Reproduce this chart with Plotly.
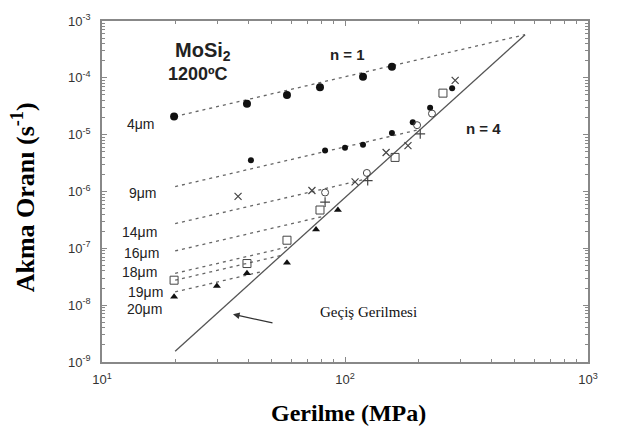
import plotly.graph_objects as go

# ---------------- data ----------------
grain_sizes = ["4μm", "9μm", "14μm", "16μm", "18μm", "19μm", "20μm"]

# dashed n = 1 lines: start / end points (stress MPa, strain rate 1/s)
line_x_start = [20, 20, 20, 20, 20, 20, 20]
line_y_start = [2.09e-5, 1.22e-6, 2.72e-7, 9.0e-8, 3.63e-8, 2.75e-8, 1.71e-8]
line_x_end = [550, 204, 121, 82.4, 60, 54.5, 46.2]
line_y_end = [5.74e-4, 1.24e-5, 1.64e-6, 3.7e-7, 1.09e-7, 7.5e-8, 3.96e-8]

# solid n = 4 transition line
trans_x = [20, 551]
trans_y = [1.55e-9, 5.75e-4]

# measured points per grain size
d4_x = [19.8, 39.5, 57.7, 78.9, 118.6, 156]
d4_y = [2.09e-5, 3.49e-5, 4.98e-5, 6.83e-5, 1.05e-4, 1.56e-4]

d9_x = [41.0, 82.8, 100, 118.6, 156, 190, 224, 276]
d9_y = [3.53e-6, 5.25e-6, 5.9e-6, 6.65e-6, 1.07e-5, 1.65e-5, 2.98e-5, 6.56e-5]

d14_x = [36.3, 73.1, 110, 147.6, 181.6, 284]
d14_y = [8.2e-7, 1.04e-6, 1.48e-6, 4.85e-6, 6.4e-6, 9.0e-5]

d16_x = [82.8, 123, 198, 228]
d16_y = [9.6e-7, 2.12e-6, 1.47e-5, 2.35e-5]

d18_x = [82.8, 124, 204]
d18_y = [6.5e-7, 1.55e-6, 1.03e-5]

d19_x = [19.8, 39.5, 57.7, 78.9, 160.7, 253]
d19_y = [2.75e-8, 5.4e-8, 1.39e-7, 4.72e-7, 3.98e-6, 5.38e-5]

d20_x = [19.8, 29.7, 39.5, 57.7, 76.0, 93.5]
d20_y = [1.41e-8, 2.17e-8, 3.63e-8, 5.6e-8, 2.14e-7, 4.72e-7]

x_tickvals = [10, 100, 1000]
x_ticktext = ["10<sup>1</sup>", "10<sup>2</sup>", "10<sup>3</sup>"]
y_tickvals = [1e-9, 1e-8, 1e-7, 1e-6, 1e-5, 1e-4, 1e-3]
y_ticktext = ["10<sup>-9</sup>", "10<sup>-8</sup>", "10<sup>-7</sup>", "10<sup>-6</sup>",
              "10<sup>-5</sup>", "10<sup>-4</sup>", "10<sup>-3</sup>"]

# ---------------- figure ----------------
fig = go.Figure()

for i in range(len(grain_sizes)):
    fig.add_trace(go.Scatter(
        x=[line_x_start[i], line_x_end[i]], y=[line_y_start[i], line_y_end[i]],
        mode="lines", line=dict(color="#666", width=1.3, dash="3px,4px"),
        showlegend=False, hoverinfo="skip"))

fig.add_trace(go.Scatter(x=trans_x, y=trans_y, mode="lines",
                         line=dict(color="#555", width=1.3), showlegend=False))

ink = "#111"
series = [
    (d4_x, d4_y, dict(symbol="circle", size=8, color=ink)),
    (d9_x, d9_y, dict(symbol="circle", size=6, color=ink)),
    (d14_x, d14_y, dict(symbol="x-thin-open", size=7, color="#444", line=dict(width=1.2, color="#444"))),
    (d16_x, d16_y, dict(symbol="circle-open", size=7, color="#444", line=dict(width=1, color="#444"))),
    (d18_x, d18_y, dict(symbol="cross-thin-open", size=7, color="#444", line=dict(width=1.2, color="#444"))),
    (d19_x, d19_y, dict(symbol="square-open", size=8, color="#444", line=dict(width=1, color="#444"))),
    (d20_x, d20_y, dict(symbol="triangle-up", size=7, color=ink)),
]
for (xs, ys, mk), name in zip(series, grain_sizes):
    fig.add_trace(go.Scatter(x=xs, y=ys, mode="markers", marker=mk, name=name,
                             showlegend=False))

L, R, T, B = 102, 588, 12, 362
def px(xp):
    return (xp - L) / (R - L)
def py(yp):
    return (B - yp) / (B - T)

ann = []
def text(xp, yp, s, size, fam="Liberation Sans", bold=False, color="#222", angle=0):
    ann.append(dict(x=px(xp), y=py(yp), xref="paper", yref="paper", text=(f"<b>{s}</b>" if bold else s),
                    showarrow=False, textangle=angle,
                    font=dict(family=fam, size=size, color=color),
                    xanchor="center", yanchor="middle"))

text(203, 43, "MoSi<sub>2</sub>", 20, bold=True)
text(198, 66, "1200ºC", 18, bold=True)
text(347, 46, "n = 1", 15, bold=True)
text(483, 122, "n = 4", 15, bold=True)
text(368, 311, "Geçiş Gerilmesi", 15, fam="Liberation Serif", color="#111")

label_pos = [(141, 118), (143, 189), (139, 229), (141, 250), (139, 270), (145, 290), (144, 308)]
for (xp, yp), g in zip(label_pos, grain_sizes):
    text(xp, yp, g, 14)

text(23, 193, "Akma Oranı (s<sup>-1</sup>)", 26, fam="Liberation Serif", bold=True, color="#000", angle=-90)
text(348, 414, "Gerilme (MPa)", 24, fam="Liberation Serif", bold=True, color="#000")

ann.append(dict(x=px(233), y=py(313), xref="paper", yref="paper", text="",
                showarrow=True, ax=41, ay=9, arrowhead=2, arrowsize=1.1,
                arrowwidth=1.2, arrowcolor="#333"))

axis_common = dict(type="log", showgrid=False, zeroline=False, showline=True,
                   linecolor="#888", linewidth=1.5, mirror="ticks",
                   ticks="inside", ticklen=5, tickcolor="#888",
                   tickfont=dict(family="Liberation Sans", size=13, color="#333"))

fig.update_layout(
    width=618, height=437,
    margin=dict(l=L, r=618 - R, t=T, b=437 - B),
    paper_bgcolor="white", plot_bgcolor="white",
    showlegend=False,
    annotations=ann,
    xaxis=dict(**axis_common, range=[1, 3], tickmode="array",
               tickvals=x_tickvals, ticktext=x_ticktext, ticklabelstandoff=5,
               minor=dict(ticks="inside", ticklen=3, tickcolor="#888", dtick="D1", showgrid=False)),
    yaxis=dict(**axis_common, range=[-9, -3], tickmode="array",
               tickvals=y_tickvals, ticktext=y_ticktext, ticklabelstandoff=7,
               minor=dict(ticks="inside", ticklen=3, tickcolor="#888", dtick="D1", showgrid=False)),
)

fig.write_html("out.html")
